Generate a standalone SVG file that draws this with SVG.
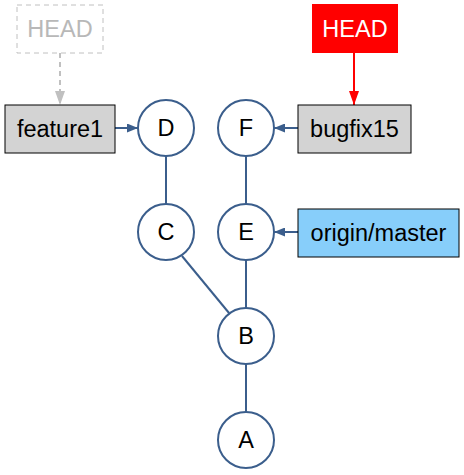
<svg xmlns="http://www.w3.org/2000/svg" width="464" height="475" viewBox="0 0 464 475">
<style>
text{font-family:"Liberation Sans",Arial,sans-serif;font-size:23.5px;text-anchor:middle;dominant-baseline:central}
.commit circle{fill:#fff;stroke:#3b5e8c;stroke-width:2}
.ref rect{stroke:#000;stroke-width:1}
.edge{stroke:#3b5e8c;stroke-width:2;fill:none}
</style>
<defs>
<marker id="ab" viewBox="0 0 11 9" refX="11" refY="4.5" markerWidth="11" markerHeight="9" markerUnits="userSpaceOnUse" orient="auto"><path d="M0,0 L11,4.5 L0,9 z" fill="#3b5e8c"/></marker>
<marker id="ar" viewBox="0 0 14 10" refX="14" refY="5" markerWidth="14" markerHeight="10" markerUnits="userSpaceOnUse" orient="auto"><path d="M0,0 L14,5 L0,10 z" fill="#f00"/></marker>
<marker id="ag" viewBox="0 0 14 10" refX="14" refY="5" markerWidth="14" markerHeight="10" markerUnits="userSpaceOnUse" orient="auto"><path d="M0,0 L14,5 L0,10 z" fill="#c0c0c0"/></marker>
</defs>
<g id="connectors">
<line class="edge" x1="166" y1="156" x2="166" y2="204"/>
<line class="edge" x1="246" y1="156" x2="246" y2="204"/>
<line class="edge" x1="246" y1="260" x2="246" y2="308"/>
<line class="edge" x1="246" y1="364" x2="246" y2="412"/>
<line class="edge" x1="182" y1="256" x2="229" y2="313"/>
<line class="edge" x1="115" y1="128" x2="138" y2="128" marker-end="url(#ab)"/>
<line class="edge" x1="298" y1="128" x2="274" y2="128" marker-end="url(#ab)"/>
<line class="edge" x1="298" y1="232" x2="274" y2="232" marker-end="url(#ab)"/>
<line x1="354" y1="53" x2="354" y2="105" stroke="#f00" stroke-width="2" marker-end="url(#ar)"/>
<line x1="60" y1="53" x2="60" y2="105" stroke="#c0c0c0" stroke-width="2" stroke-dasharray="5,4" marker-end="url(#ag)"/>
</g>
<g id="node-D" class="commit"><circle cx="166" cy="128" r="28"/><text x="166" y="128">D</text></g>
<g id="node-C" class="commit"><circle cx="166" cy="232" r="28"/><text x="166" y="232">C</text></g>
<g id="node-F" class="commit"><circle cx="246" cy="128" r="28"/><text x="246" y="128">F</text></g>
<g id="node-E" class="commit"><circle cx="246" cy="232" r="28"/><text x="246" y="232">E</text></g>
<g id="node-B" class="commit"><circle cx="246" cy="336" r="28"/><text x="246" y="336">B</text></g>
<g id="node-A" class="commit"><circle cx="246" cy="440" r="28"/><text x="246" y="440">A</text></g>
<g id="node-feature1" class="ref"><rect x="5" y="105" width="110" height="48" fill="#d3d3d3"/><text x="60" y="129">feature1</text></g>
<g id="node-bugfix15" class="ref"><rect x="298" y="105" width="113" height="48" fill="#d3d3d3"/><text x="354.5" y="129">bugfix15</text></g>
<g id="node-origin-master" class="ref"><rect x="298" y="209" width="161" height="48" fill="#87cefa"/><text x="378.5" y="233">origin/master</text></g>
<g id="node-HEAD-red"><rect x="312" y="4" width="86" height="49" fill="#f00"/><text x="355" y="28.5" fill="#fff">HEAD</text></g>
<g id="node-HEAD-old"><rect x="17" y="5" width="86" height="48" fill="none" stroke="#c0c0c0" stroke-width="1" stroke-dasharray="5,4"/><text x="60" y="28.5" fill="#b8b8b8">HEAD</text></g>
</svg>
